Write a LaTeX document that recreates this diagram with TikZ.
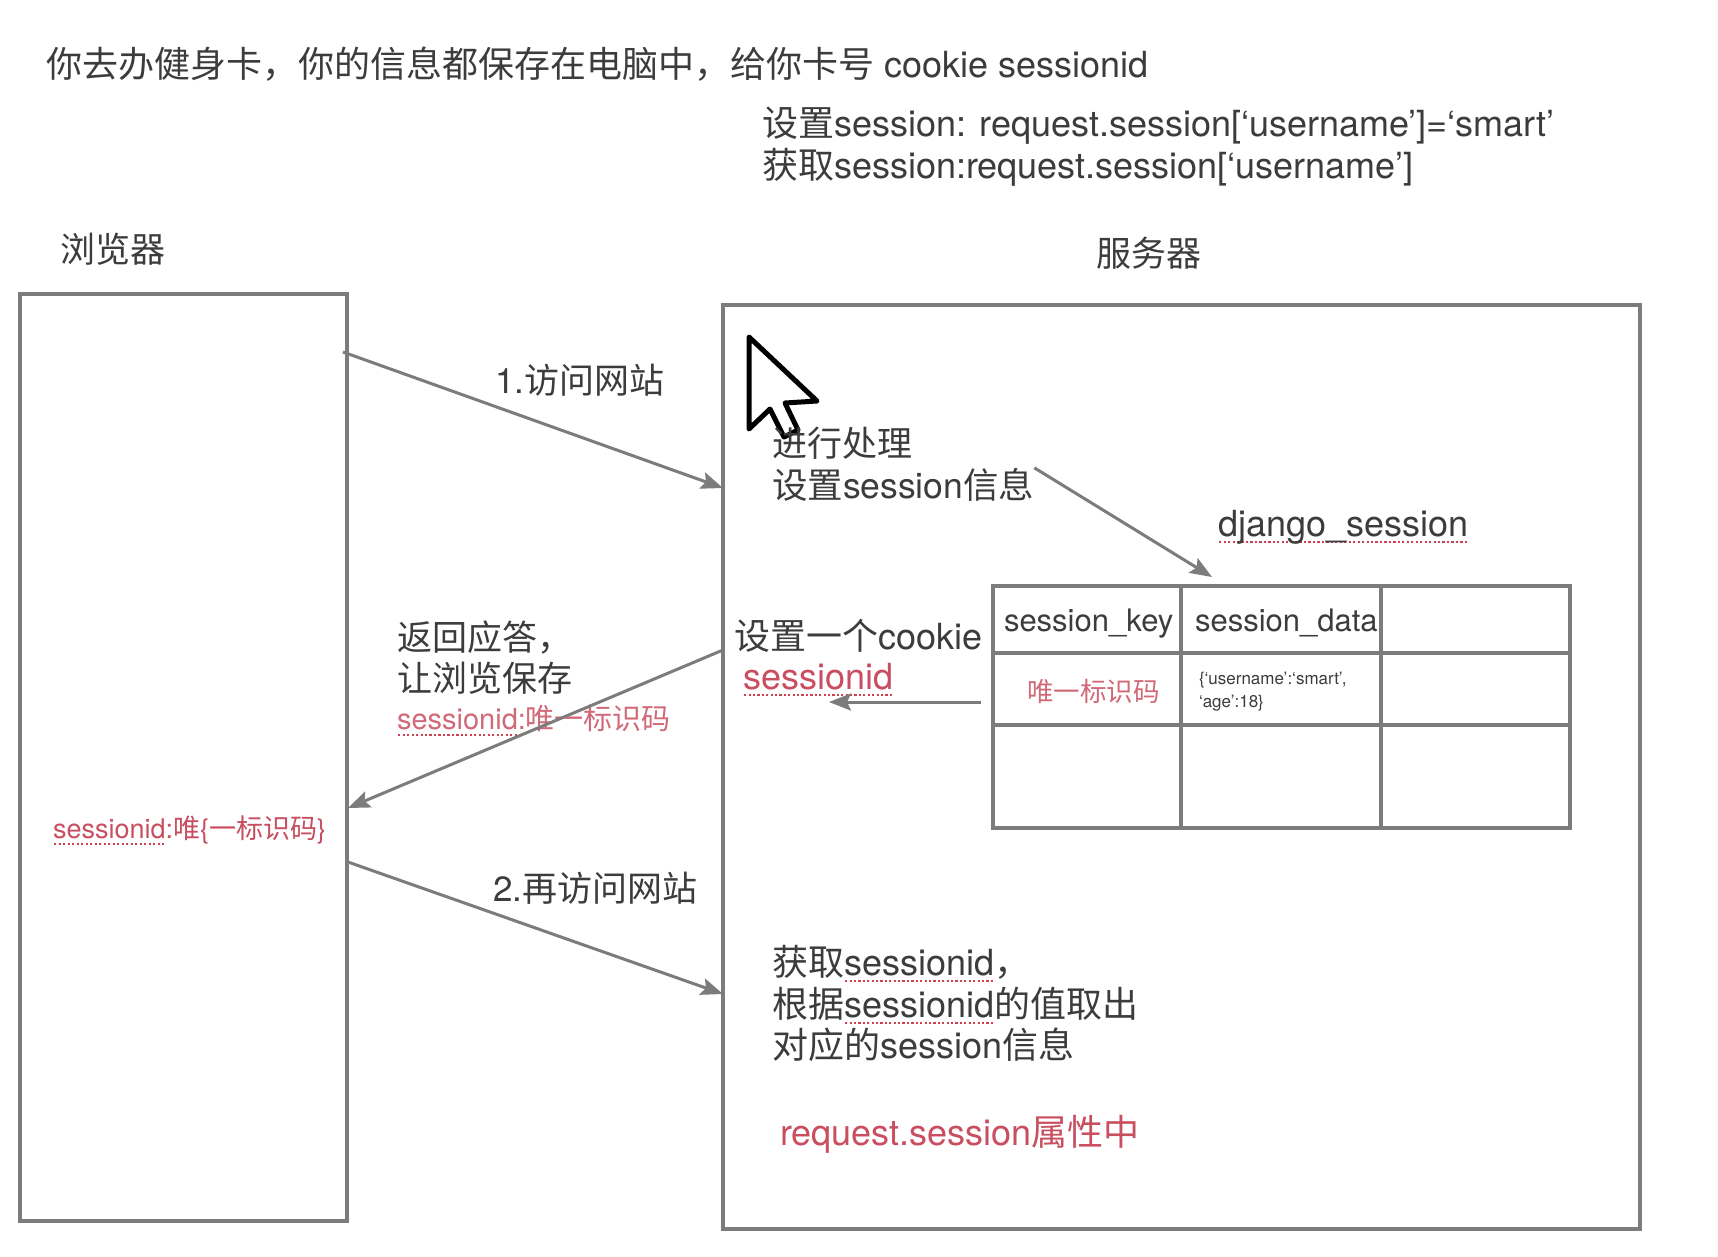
\documentclass[tikz,border=0pt]{standalone}
\usepackage{fontspec}
\setmainfont{TeX Gyre Heros}
\newfontfamily\cjkfont{Noto Sans CJK SC}
\newcommand\zh[1]{{\cjkfont #1}}
\usetikzlibrary{arrows.meta}

\definecolor{ink}{HTML}{3C3C3C}
\definecolor{mark}{HTML}{C84E60}
\definecolor{softmark}{HTML}{D06A78}
\definecolor{squig}{HTML}{D0404F}
\definecolor{rule}{HTML}{7C7C7C}

% dotted red spell-check underline
\newsavebox\sqbox
\newcommand\sq[1]{\sbox\sqbox{#1}\leavevmode\rlap{\raisebox{-7pt}{\color{squig}\hbox to \wd\sqbox{\xleaders\hbox to 4.4pt{\hss\rule{2.2pt}{2.2pt}\hss}\hfill}}}\usebox\sqbox}

\tikzset{
  lbl/.style={inner sep=0pt, outer sep=0pt, anchor=base west, text=ink,
              font=\fontsize{#1}{#1}\selectfont},
  lbl/.default=35,
  hl/.style={lbl=#1, text=mark},
  hl/.default=35,
  boxline/.style={draw=rule, line width=3.5pt, inner sep=0pt, outer sep=0pt,
                  anchor=north west},
  flow/.style={draw=rule, line width=3pt,
               -{Stealth[length=22pt,width=17pt,inset=4pt]}},
}

\begin{document}
\begin{tikzpicture}[x=1pt,y=-1pt]
\fill[white] (0,0) rectangle (1718,1256);
\useasboundingbox (0,0) rectangle (1718,1256);

% heading lines
\node[lbl=36] (title) at (46,77)
  {\zh{你去办健身卡，你的信息都保存在电脑中，给你卡号} cookie sessionid};
\node[lbl=36] (setline) at (762,136)
  {\zh{设置}session: request.session[`username']=`smart'};
\node[lbl=36] (getline) at (762,178)
  {\zh{获取}session:request.session[`username']};

% the two parties
\node[lbl] (browserlbl) at (60,262) {\zh{浏览器}};
\node[lbl] (serverlbl) at (1096,266) {\zh{服务器}};
\node[boxline, minimum width=327, minimum height=927] (browser) at (20,294) {};
\node[boxline, minimum width=917, minimum height=924] (server) at (723,305) {};

% mouse pointer
\begin{scope}[shift={(749,337)}]
  \draw[black, line width=5pt, fill=white, line join=round]
    (0,0) -- (0,92) -- (21,72) -- (35,100) -- (49,93) -- (36,66) -- (68,64) -- cycle;
\end{scope}

% first request
\node[lbl] (visit1) at (495,393) {1.\zh{访问网站}};
\node[lbl] (handle) at (772,456) {\zh{进行处理}};
\node[lbl=35.5] (setinfo) at (772,498) {\zh{设置}session\zh{信息}};

% django_session table
\node[lbl=36] (tblname) at (1218,536) {\sq{django\_session}};
\node[boxline, minimum width=577, minimum height=242] (tbl) at (993,586) {};
\draw[draw=rule, line width=3.5pt] (1181,586) -- (1181,828);
\draw[draw=rule, line width=3.5pt] (1381,586) -- (1381,828);
\draw[draw=rule, line width=3.5pt] (993,653) -- (1570,653);
\draw[draw=rule, line width=3.5pt] (993,725) -- (1570,725);
\node[lbl=31] (colkey) at (1004,631) {session\_key};
\node[lbl=31] (coldata) at (1195,631) {session\_data};
\node[hl=26.5, text=softmark] (keyval) at (1027,701) {\zh{唯一标识码}};
\node[lbl=17] (dataval1) at (1199,684) {\{`username':`smart',};
\node[lbl=17] (dataval2) at (1199,707) {`age':18\}};

% cookie handed back
\node[lbl=36] (setcookie) at (734,649) {\zh{设置一个}cookie};
\node[hl=36] (cookiename) at (743,689) {\sq{sessionid}};
\node[lbl] (reply1) at (397,650) {\zh{返回应答，}};
\node[lbl] (reply2) at (397,691) {\zh{让浏览保存}};
\node[hl=29, text=softmark] (reply3) at (397,729) {\sq{sessionid}:\zh{唯一标识码}};
\node[hl=27] (stored) at (53,838) {\sq{sessionid}:\zh{唯}\{\zh{一标识码}\}};

% second request
\node[lbl] (visit2) at (493,901) {2.\zh{再访问网站}};
\node[lbl=36] (get1) at (772,975) {\zh{获取}\sq{sessionid}\zh{，}};
\node[lbl=36] (get2) at (772,1017) {\zh{根据}\sq{sessionid}\zh{的值取出}};
\node[lbl=36] (get3) at (772,1058) {\zh{对应的}session\zh{信息}};
\node[hl=36] (attr) at (780,1145) {request.session\zh{属性中}};

% connector end points on the box sides
\coordinate (out1) at (343,352);
\coordinate (in1) at (723,488);
\coordinate (tbltop) at (1212,577);
\coordinate (tblleft) at (981,702);
\coordinate (cookietip) at (829,702);
\coordinate (out2) at (723,650);
\coordinate (in2) at (348,808);
\coordinate (out3) at (348,862);
\coordinate (in3) at (723,994);

\draw[flow] (out1) -- (in1);
\draw[flow] (setinfo.north east) -- (tbltop);
\draw[flow] (tblleft) -- (cookietip);
\draw[flow] (out2) -- (in2);
\draw[flow] (out3) -- (in3);
\end{tikzpicture}
\end{document}
